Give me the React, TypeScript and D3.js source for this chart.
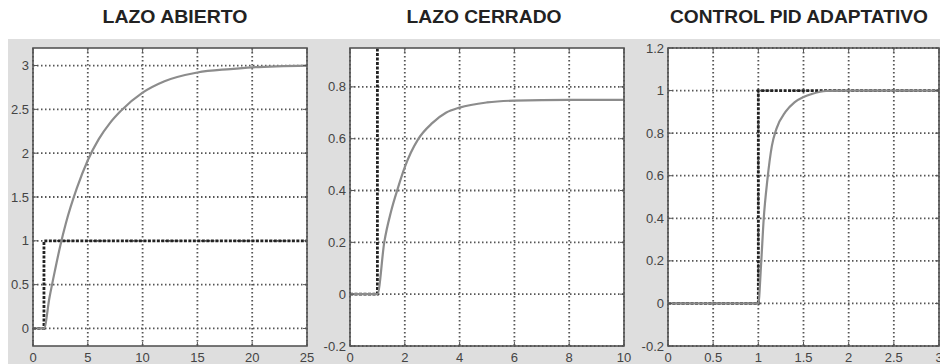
import * as d3 from "d3";

// step responses
const openT = [0, 1, 1.5, 2, 2.5, 3, 4, 5, 6, 7, 8, 10, 12, 15, 18, 20, 25];
const openY = [0, 0, 0.35, 0.66, 0.95, 1.2, 1.6, 1.92, 2.16, 2.34, 2.48, 2.69, 2.82, 2.92, 2.96, 2.98, 3.0];
const closedT = [0, 1, 1.25, 1.5, 1.75, 2, 2.5, 3, 3.5, 4, 5, 6, 8, 10];
const closedY = [0, 0, 0.2, 0.32, 0.41, 0.49, 0.6, 0.66, 0.7, 0.72, 0.74, 0.747, 0.75, 0.75];
const pidT = [0, 1, 1.03, 1.06, 1.1, 1.15, 1.2, 1.3, 1.4, 1.5, 1.6, 1.75, 2, 3];
const pidY = [0, 0, 0.18, 0.4, 0.58, 0.74, 0.82, 0.9, 0.945, 0.97, 0.985, 0.998, 1, 1];

// reference step
const stepT1 = [0, 1, 1, 25];
const stepT2 = [0, 1, 1, 10];
const stepT3 = [0, 1, 1, 3];
const stepY = [0, 0, 1, 1];

const titles = ["LAZO ABIERTO", "LAZO CERRADO", "CONTROL PID ADAPTATIVO"];
const xTicks1 = [0, 5, 10, 15, 20, 25];
const xTicks2 = [0, 2, 4, 6, 8, 10];
const xTicks3 = [0, 0.5, 1, 1.5, 2, 2.5, 3];
const yTicks1 = [0, 0.5, 1, 1.5, 2, 2.5, 3];
const yTicks2 = [-0.2, 0, 0.2, 0.4, 0.6, 0.8];
const yTicks3 = [-0.2, 0, 0.2, 0.4, 0.6, 0.8, 1, 1.2];

const panels = [
  {title: titles[0], tx: 175, tw: 145, left: 33, right: 307, xd: [0, 25], yd: [-0.2, 3.2],
    xt: xTicks1, yt: yTicks1, rt: openT, ry: openY, st: stepT1},
  {title: titles[1], tx: 484, tw: 155, left: 350, right: 624, xd: [0, 10], yd: [-0.2, 0.95],
    xt: xTicks2, yt: yTicks2, rt: closedT, ry: closedY, st: stepT2},
  {title: titles[2], tx: 799, tw: 258, left: 668, right: 939, xd: [0, 3], yd: [-0.2, 1.2],
    xt: xTicks3, yt: yTicks3, rt: pidT, ry: pidY, st: stepT3},
];

const top = 48;
const bottom = 346;
const fmt = (v: number) => String(v);

const Panel = ({p, i}: any) => {
  const x = d3.scaleLinear().domain(p.xd).range([p.left, p.right]);
  const y = d3.scaleLinear().domain(p.yd).range([bottom, top]);
  const resp = d3.line<number>()
    .x((d, k) => x(p.rt[k]))
    .y(d => y(d))
    .curve(d3.curveMonotoneX);
  const step = d3.line<number>()
    .x((d, k) => x(p.st[k]))
    .y(d => y(d));
  return (
    <g>
      <defs>
        <clipPath id={"clip" + i}>
          <rect x={p.left} y={top} width={p.right - p.left} height={bottom - top}/>
        </clipPath>
      </defs>
      <text x={p.tx - p.tw / 2} y={23} textLength={p.tw} lengthAdjust="spacingAndGlyphs"
            fontFamily="'Liberation Sans', Arial, sans-serif" fontWeight="bold"
            fontSize={18} fill="#222">{p.title}</text>
      <rect x={p.left} y={top} width={p.right - p.left} height={bottom - top} fill="#fff"/>
      {p.xt.map((t: number) => (
        <line key={"gx" + t} x1={x(t)} x2={x(t)} y1={top} y2={bottom}
              stroke="#555" strokeWidth={1.8} strokeDasharray="1.5,2.5"/>
      ))}
      {p.yt.map((t: number) => (
        <line key={"gy" + t} x1={p.left} x2={p.right} y1={y(t)} y2={y(t)}
              stroke="#555" strokeWidth={1.8} strokeDasharray="1.5,2.5"/>
      ))}
      <g clipPath={`url(#clip${i})`}>
        <path d={step(stepY) || ""} fill="none" stroke="#222" strokeWidth={2.8}
              strokeDasharray="3,1.5"/>
        <path d={resp(p.ry) || ""} fill="none" stroke="#8c8c8c" strokeWidth={2.2}/>
      </g>
      {p.xt.map((t: number) => (
        <g key={"tx" + t}>
          <line x1={x(t)} x2={x(t)} y1={bottom} y2={bottom - 4} stroke="#555"/>
          <line x1={x(t)} x2={x(t)} y1={top} y2={top + 4} stroke="#555"/>
        </g>
      ))}
      {p.yt.map((t: number) => (
        <g key={"ty" + t}>
          <line x1={p.left} x2={p.left + 4} y1={y(t)} y2={y(t)} stroke="#555"/>
          <line x1={p.right} x2={p.right - 4} y1={y(t)} y2={y(t)} stroke="#555"/>
        </g>
      ))}
      <rect x={p.left} y={top} width={p.right - p.left} height={bottom - top}
            fill="none" stroke="#555" strokeWidth={1.6}/>
      {p.xt.map((t: number) => (
        <text key={"lx" + t} x={x(t)} y={362} textAnchor="middle" fontSize={13}
              fontFamily="'Liberation Sans', Arial, sans-serif" fill="#444">{fmt(t)}</text>
      ))}
      {p.yt.map((t: number) => (
        <text key={"ly" + t} x={p.left - 4} y={y(t) + 4.5} textAnchor="end" fontSize={13}
              fontFamily="'Liberation Sans', Arial, sans-serif" fill="#444">{fmt(t)}</text>
      ))}
    </g>
  );
};

export default function App() {
  return (
    <svg width={940} height={364} style={{position: "absolute", left: 0, top: 0}}>
      <rect x={0} y={0} width={940} height={364} fill="#fff"/>
      <rect x={8} y={39} width={932} height={325} fill="#dedede"/>
      {panels.map((p, i) => <Panel key={i} p={p} i={i}/>)}
    </svg>
  );
}
